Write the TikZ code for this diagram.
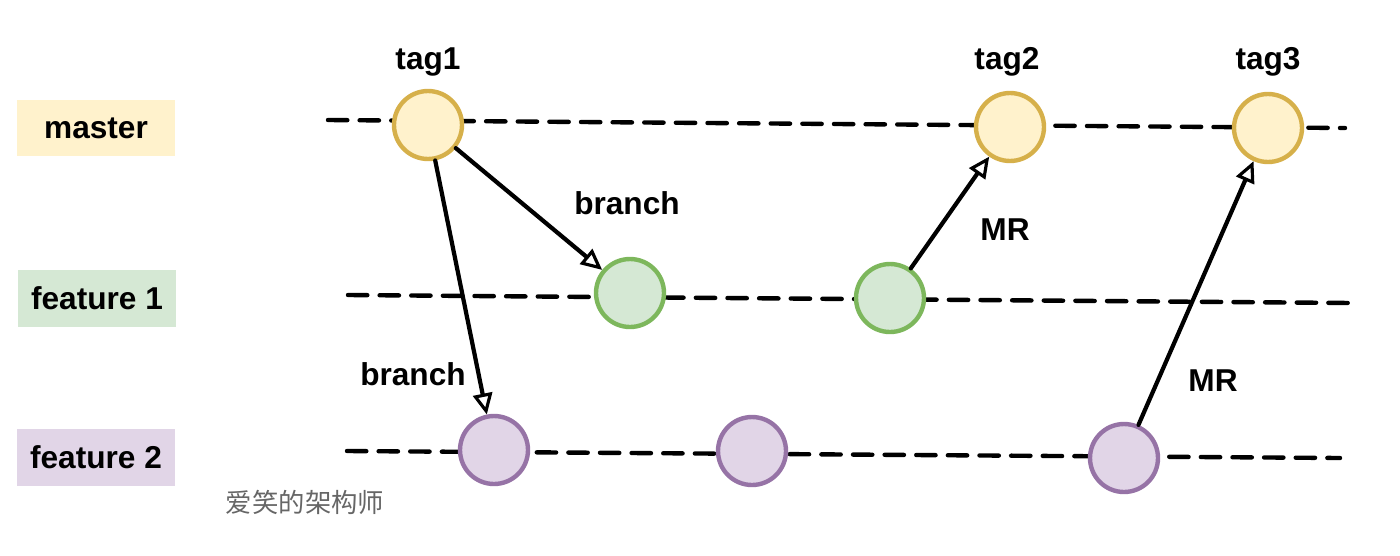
\documentclass[tikz,border=0pt]{standalone}
\usepackage{fontspec}
\setmainfont{Liberation Sans}
\newfontfamily\cjk{Noto Sans CJK SC}
\usepackage{tikz}
\usetikzlibrary{arrows.meta}
\definecolor{mastfill}{HTML}{FFF2CC}
\definecolor{mastline}{HTML}{D6B04A}
\definecolor{featafill}{HTML}{D5E8D4}
\definecolor{feataline}{HTML}{7DB75C}
\definecolor{featbfill}{HTML}{E1D5E7}
\definecolor{featbline}{HTML}{9673A6}
\definecolor{markgray}{HTML}{666666}
\tikzset{
    lab/.style={
        font=\fontsize{18}{22}\selectfont\bfseries
    },
    lanebox/.style={
        lab, minimum width=3.16cm, minimum height=1.14cm, inner sep=0pt
    },
    lane/.style={
        line width=2.5pt, dash pattern=on 11pt off 7pt, line cap=round
    },
    commit/.style={
        circle, line width=2.5pt, minimum size=1.36cm, inner sep=0pt
    },
    flow/.style={
        line width=2.4pt, -{Triangle[open, length=12pt, width=11pt, line width=1.8pt]}
    }
}

\begin{document}
\begin{tikzpicture}[x=0.02cm, y=-0.02cm, line cap=round, line join=round]

\useasboundingbox (0,0) rectangle (1400,555);

% lane names
\node[lanebox, fill=mastfill] (mlab) at (96,128) {master};
\node[lanebox, fill=featafill] (falab) at (97,298) {feature 1};
\node[lanebox, fill=featbfill] (fblab) at (96,457) {feature 2};

% dashed lanes
\coordinate (ms) at (328,120);
\coordinate (me) at (1345,128);
\coordinate (fas) at (348,295);
\coordinate (fae) at (1352,303);
\coordinate (fbs) at (347,451);
\coordinate (fbe) at (1340,458);
\draw[lane] (ms) -- (me);
\draw[lane] (fas) -- (fae);
\draw[lane] (fbs) -- (fbe);

% master commits
\node[commit, draw=mastline, fill=mastfill] (tg1) at (428,125) {};
\node[commit, draw=mastline, fill=mastfill] (tg2) at (1010,127) {};
\node[commit, draw=mastline, fill=mastfill] (tg3) at (1268,128) {};

% feature 1 commits
\node[commit, draw=feataline, fill=featafill] (fa1) at (630,293) {};
\node[commit, draw=feataline, fill=featafill] (fa2) at (890,298) {};

% feature 2 commits
\node[commit, draw=featbline, fill=featbfill] (fb1) at (494,450) {};
\node[commit, draw=featbline, fill=featbfill] (fb2) at (752,451) {};
\node[commit, draw=featbline, fill=featbfill] (fb3) at (1124,458) {};

\node[lab] (t1) at (428,62) {tag1};
\node[lab] (t2) at (1007,62) {tag2};
\node[lab] (t3) at (1268,62) {tag3};

% branches and merges
\draw[flow] (tg1) -- (fa1);
\draw[flow] (tg1) -- (fb1);
\draw[flow] (fa2) -- (tg2);
\draw[flow] (fb3) -- (tg3);

\node[lab] (br1) at (627,203) {branch};
\node[lab] (br2) at (413,374) {branch};
\node[lab] (mr1) at (1005,230) {MR};
\node[lab] (mr2) at (1213,381) {MR};

\node[color=markgray, font=\cjk\fontsize{15}{18}\selectfont] (wm) at (305,502) {爱笑的架构师};

\end{tikzpicture}
\end{document}
